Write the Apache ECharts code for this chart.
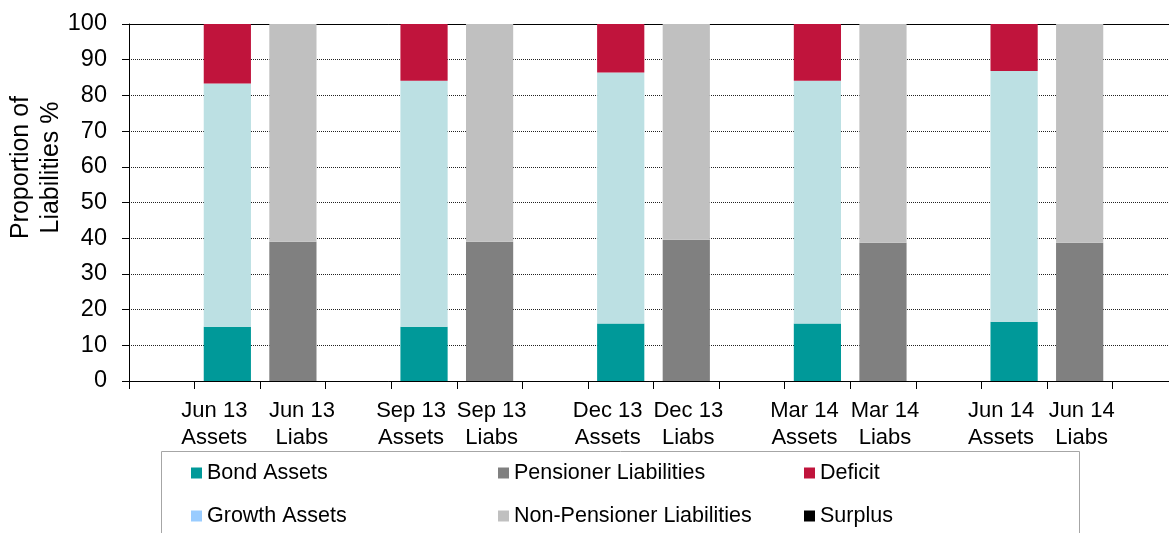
<!DOCTYPE html>
<html>
<head>
<meta charset="utf-8">
<script src="https://cdn.jsdelivr.net/npm/echarts@6/dist/echarts.min.js"></script>
<style>
  html, body { margin: 0; padding: 0; background: #fff; }
  #chart { width: 1169px; height: 533px; }
</style>
</head>
<body>
<div id="chart"></div>
<script>
// periods shown on the axis, each has an Assets bar and a Liabs bar
var periods = ['Jun 13', 'Sep 13', 'Dec 13', 'Mar 14', 'Jun 14'];
// asset side (percent of liabilities)
var bondAssets = [15.2, 15.2, 16.1, 16.1, 16.6];
var growthAssets = [68.1, 68.9, 70.3, 68.0, 70.2];
var deficit = [16.7, 15.9, 13.6, 15.9, 13.2];
var surplus = [0, 0, 0, 0, 0];
// liability side
var pensionerLiabs = [39.0, 39.0, 39.6, 38.7, 38.7];
var nonPensionerLiabs = [61.0, 61.0, 60.4, 61.3, 61.3];
var yTicks = [0, 10, 20, 30, 40, 50, 60, 70, 80, 90, 100];

var FONT = '"Liberation Sans", Arial, sans-serif';

// category axis: blank, Assets, Liabs per period, then a trailing blank
// (labels nudged a little off-centre like the original)
var categories = [];
periods.forEach(function (p, i) {
  categories.push('');
  categories.push({ value: p + '\nAssets', textStyle: { padding: [0, 26, 0, 0] } });
  categories.push({ value: p + '\nLiabs', textStyle: { padding: [0, 0, 0, i === 0 ? 18 : 4] } });
});
categories.push('');

// put values on the Assets (side 1) or Liabs (side 2) slot of each period
function place(values, side) {
  var out = categories.map(function () { return '-'; });
  values.forEach(function (v, i) { out[i * 3 + side] = v; });
  return out;
}

function bar(name, values, side, color, dataColor) {
  var data = place(values, side);
  if (dataColor) {
    data = data.map(function (v) {
      return v === '-' ? v : { value: v, itemStyle: { color: dataColor } };
    });
  }
  return {
    name: name,
    type: 'bar',
    stack: 'all',
    barWidth: '72%',
    itemStyle: { color: color },
    data: data
  };
}

var legendText = { fontSize: 21.5, lineHeight: 22, color: '#000', fontFamily: FONT };

var chart = echarts.init(document.getElementById('chart'));
var option = {
  animation: false,
  textStyle: { fontFamily: FONT },
  grid: { left: 129, top: 24, right: -9, bottom: 152, outerBoundsMode: 'none' },
  xAxis: [
    {
      type: 'category',
      data: categories,
      axisLine: { lineStyle: { color: '#000', width: 1 } },
      axisTick: { show: true, length: 8, lineStyle: { color: '#000' } },
      axisLabel: {
        interval: 0,
        hideOverlap: false,
        color: '#000',
        fontSize: 22,
        lineHeight: 27,
        margin: 16,
        fontFamily: FONT
      }
    },
    {
      type: 'category',
      position: 'top',
      data: categories,
      axisLine: { show: true, lineStyle: { color: '#000', width: 1 } },
      axisTick: { show: false },
      axisLabel: { show: false }
    }
  ],
  yAxis: {
    type: 'value',
    min: yTicks[0],
    max: yTicks[yTicks.length - 1],
    interval: 10,
    axisLine: { show: true, lineStyle: { color: '#000', width: 1 } },
    axisTick: { show: true, length: 7, lineStyle: { color: '#000' } },
    axisLabel: { color: '#000', fontSize: 23.5, margin: 22, fontFamily: FONT },
    splitLine: { show: true, lineStyle: { color: '#222', type: 'dotted', width: 1 } }
  },
  legend: [
    {
      orient: 'vertical', left: 191, top: 462, padding: 0,
      itemWidth: 11, itemHeight: 11, itemGap: 21, icon: 'rect',
      textStyle: legendText,
      data: ['Bond Assets', 'Growth Assets']
    },
    {
      orient: 'vertical', left: 498, top: 462, padding: 0,
      itemWidth: 11, itemHeight: 11, itemGap: 21, icon: 'rect',
      textStyle: legendText,
      data: ['Pensioner Liabilities', 'Non-Pensioner Liabilities']
    },
    {
      orient: 'vertical', left: 804, top: 462, padding: 0,
      itemWidth: 11, itemHeight: 11, itemGap: 21, icon: 'rect',
      textStyle: legendText,
      data: ['Deficit', 'Surplus']
    }
  ],
  graphic: [
    {
      type: 'rect',
      shape: { x: 161.5, y: 451.5, width: 918, height: 100 },
      style: { fill: 'none', stroke: '#a6a6a6', lineWidth: 1 },
      z: 0
    },
    {
      type: 'text',
      x: 36.5, y: 167.5,
      rotation: Math.PI / 2,
      style: {
        text: 'Proportion of\nLiabilities %',
        fontSize: 25,
        lineHeight: 30,
        fontFamily: FONT,
        fill: '#000',
        align: 'center',
        verticalAlign: 'middle'
      }
    }
  ],
  series: [
    bar('Bond Assets', bondAssets, 1, '#009999'),
    bar('Growth Assets', growthAssets, 1, '#99ccff', '#bce0e3'),
    bar('Deficit', deficit, 1, '#c0143c'),
    bar('Surplus', surplus, 1, '#000000'),
    bar('Pensioner Liabilities', pensionerLiabs, 2, '#808080'),
    bar('Non-Pensioner Liabilities', nonPensionerLiabs, 2, '#c0c0c0')
  ]
};
chart.setOption(option);
</script>
</body>
</html>
